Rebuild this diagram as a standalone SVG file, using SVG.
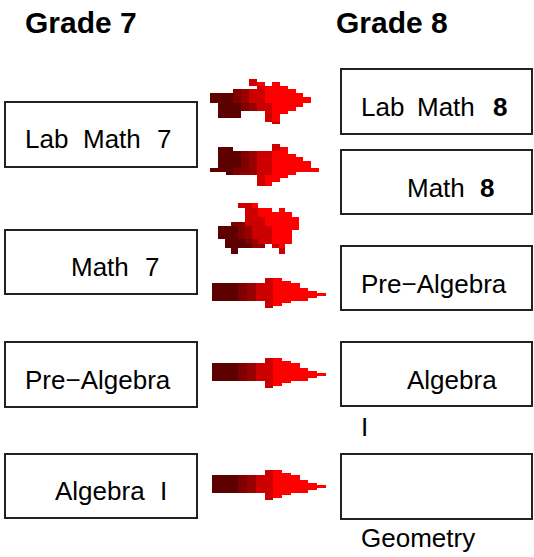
<svg xmlns="http://www.w3.org/2000/svg" xmlns:xlink="http://www.w3.org/1999/xlink" width="534" height="557" viewBox="0 0 534 557">
<style>
.box{fill:#fff;stroke:#222;stroke-width:2}
.t{font-family:"Liberation Sans",Arial,sans-serif;font-size:26px;fill:#000}
.b{font-weight:bold}
.h{font-family:"Liberation Sans",Arial,sans-serif;font-size:30px;font-weight:bold;fill:#000}
.c0{fill:#5c0000}.c1{fill:#800000}.c2{fill:#990000}.c3{fill:#cc0000}.c4{fill:#ff0000}
g.px rect{shape-rendering:crispEdges}
</style>
<defs>
<g id="arrow" class="px">
<rect class="c0" x="0" y="5" width="25.7" height="17.7"/>
<rect class="c1" x="25.7" y="5" width="9" height="17.7"/>
<rect class="c2" x="34.7" y="5" width="9" height="17.7"/>
<rect class="c3" x="43.7" y="5" width="9.3" height="17.7"/>
<rect class="c3" x="53" y="0" width="7.7" height="29.7"/>
<rect class="c4" x="60.7" y="0" width="9" height="27.7"/>
<rect class="c4" x="69.7" y="3" width="9" height="21.7"/>
<rect class="c4" x="78.7" y="5" width="9.3" height="17.7"/>
<rect class="c4" x="88" y="10" width="7.7" height="12.7"/>
<rect class="c4" x="95.7" y="13" width="9" height="6.7"/>
<rect class="c4" x="104.7" y="15" width="9.3" height="2.7"/>
</g>
</defs>

<g id="header-grade7"><text class="h" x="25" y="33">Grade 7</text></g>
<g id="header-grade8"><text class="h" x="336" y="33">Grade 8</text></g>

<g id="lab-math-7"><rect class="box" x="5" y="102" width="192" height="65"/>
<text class="t" y="148"><tspan x="25">Lab</tspan><tspan x="83">Math</tspan><tspan x="157">7</tspan></text></g>
<g id="math-7"><rect class="box" x="5" y="230" width="192" height="64"/>
<text class="t" y="276"><tspan x="71">Math</tspan><tspan x="145">7</tspan></text></g>
<g id="pre-algebra-7"><rect class="box" x="5" y="342" width="192" height="65"/>
<text class="t" x="25" y="389">Pre−Algebra</text></g>
<g id="algebra-i-7"><rect class="box" x="5" y="454" width="192" height="64"/>
<text class="t" y="500"><tspan x="55">Algebra</tspan><tspan x="160">I</tspan></text></g>

<g id="lab-math-8"><rect class="box" x="341" y="69" width="191" height="65"/>
<text class="t" y="116"><tspan x="361">Lab</tspan><tspan x="417">Math</tspan><tspan class="b" x="493">8</tspan></text></g>
<g id="math-8"><rect class="box" x="341" y="150" width="191" height="64"/>
<text class="t" y="197"><tspan x="407">Math</tspan><tspan class="b" x="480">8</tspan></text></g>
<g id="pre-algebra-8"><rect class="box" x="341" y="246" width="191" height="64"/>
<text class="t" x="361" y="293">Pre−Algebra</text></g>
<g id="algebra-8"><rect class="box" x="341" y="342" width="191" height="64"/>
<text class="t" x="407" y="389">Algebra</text>
<text class="t" x="361" y="436">I</text></g>
<g id="geometry-8"><rect class="box" x="341" y="454" width="191" height="65"/>
<text class="t" x="361" y="547">Geometry</text></g>

<g id="connectors">
<g class="px" transform="translate(200 75) scale(0.33333)">
<rect class="c0" x="30" y="55" width="70" height="30"/>
<rect class="c0" x="55" y="85" width="68" height="43"/>
<rect class="c1" x="100" y="42" width="23" height="43"/>
<rect class="c1" x="123" y="85" width="24" height="22"/>
<rect class="c2" x="123" y="42" width="24" height="43"/>
<rect class="c2" x="147" y="85" width="23" height="22"/>
<rect class="c3" x="147" y="12" width="23" height="20"/>
<rect class="c3" x="147" y="42" width="23" height="43"/>
<rect class="c3" x="170" y="32" width="25" height="75"/>
<rect class="c3" x="195" y="85" width="22" height="55"/>
<rect class="c3" x="217" y="140" width="23" height="8"/>
<rect class="c4" x="170" y="22" width="25" height="10"/>
<rect class="c4" x="217" y="22" width="23" height="10"/>
<rect class="c4" x="195" y="32" width="70" height="10"/>
<rect class="c4" x="195" y="42" width="93" height="13"/>
<rect class="c4" x="195" y="55" width="115" height="11"/>
<rect class="c4" x="195" y="66" width="138" height="19"/>
<rect class="c4" x="217" y="85" width="93" height="10"/>
<rect class="c4" x="217" y="95" width="71" height="12"/>
<rect class="c4" x="217" y="107" width="48" height="11"/>
<rect class="c4" x="217" y="118" width="23" height="22"/>
</g>
<g class="px" transform="translate(200 70) scale(0.33333)">
<rect class="c0" x="55" y="232" width="45" height="73"/>
<rect class="c0" x="30" y="295" width="25" height="10"/>
<rect class="c0" x="78" y="305" width="22" height="10"/>
<rect class="c0" x="100" y="242" width="23" height="53"/>
<rect class="c1" x="123" y="242" width="24" height="63"/>
<rect class="c1" x="100" y="295" width="23" height="20"/>
<rect class="c2" x="147" y="242" width="23" height="73"/>
<rect class="c2" x="123" y="305" width="24" height="10"/>
<rect class="c3" x="170" y="242" width="47" height="73"/>
<rect class="c3" x="170" y="315" width="25" height="33"/>
<rect class="c3" x="217" y="222" width="23" height="20"/>
<rect class="c4" x="217" y="242" width="23" height="93"/>
<rect class="c4" x="240" y="232" width="23" height="93"/>
<rect class="c4" x="263" y="252" width="25" height="63"/>
<rect class="c4" x="288" y="262" width="22" height="43"/>
<rect class="c4" x="310" y="272" width="23" height="33"/>
<rect class="c4" x="333" y="295" width="24" height="10"/>
<rect class="c4" x="195" y="315" width="22" height="33"/>
</g>
<g class="px" transform="translate(200 195) scale(0.33333)">
<rect class="c0" x="55" y="93" width="58" height="40"/>
<rect class="c0" x="75" y="133" width="60" height="15"/>
<rect class="c0" x="75" y="148" width="80" height="12"/>
<rect class="c0" x="93" y="160" width="20" height="18"/>
<rect class="c1" x="93" y="80" width="20" height="13"/>
<rect class="c1" x="113" y="80" width="22" height="53"/>
<rect class="c1" x="135" y="133" width="20" height="15"/>
<rect class="c2" x="135" y="93" width="20" height="40"/>
<rect class="c2" x="155" y="133" width="20" height="27"/>
<rect class="c2" x="175" y="148" width="20" height="12"/>
<rect class="c3" x="115" y="23" width="40" height="15"/>
<rect class="c3" x="135" y="38" width="40" height="55"/>
<rect class="c3" x="155" y="93" width="60" height="40"/>
<rect class="c3" x="175" y="67" width="20" height="26"/>
<rect class="c3" x="175" y="133" width="40" height="15"/>
<rect class="c3" x="215" y="148" width="22" height="12"/>
<rect class="c3" x="237" y="160" width="18" height="18"/>
<rect class="c4" x="155" y="23" width="20" height="15"/>
<rect class="c4" x="175" y="38" width="40" height="29"/>
<rect class="c4" x="237" y="38" width="18" height="14"/>
<rect class="c4" x="215" y="52" width="60" height="15"/>
<rect class="c4" x="195" y="67" width="102" height="26"/>
<rect class="c4" x="215" y="93" width="82" height="12"/>
<rect class="c4" x="215" y="105" width="60" height="43"/>
<rect class="c4" x="237" y="148" width="18" height="12"/>
</g>
<use xlink:href="#arrow" x="212" y="278"/>
<use xlink:href="#arrow" x="212" y="358"/>
<use xlink:href="#arrow" x="212" y="470"/>
</g>
</svg>
